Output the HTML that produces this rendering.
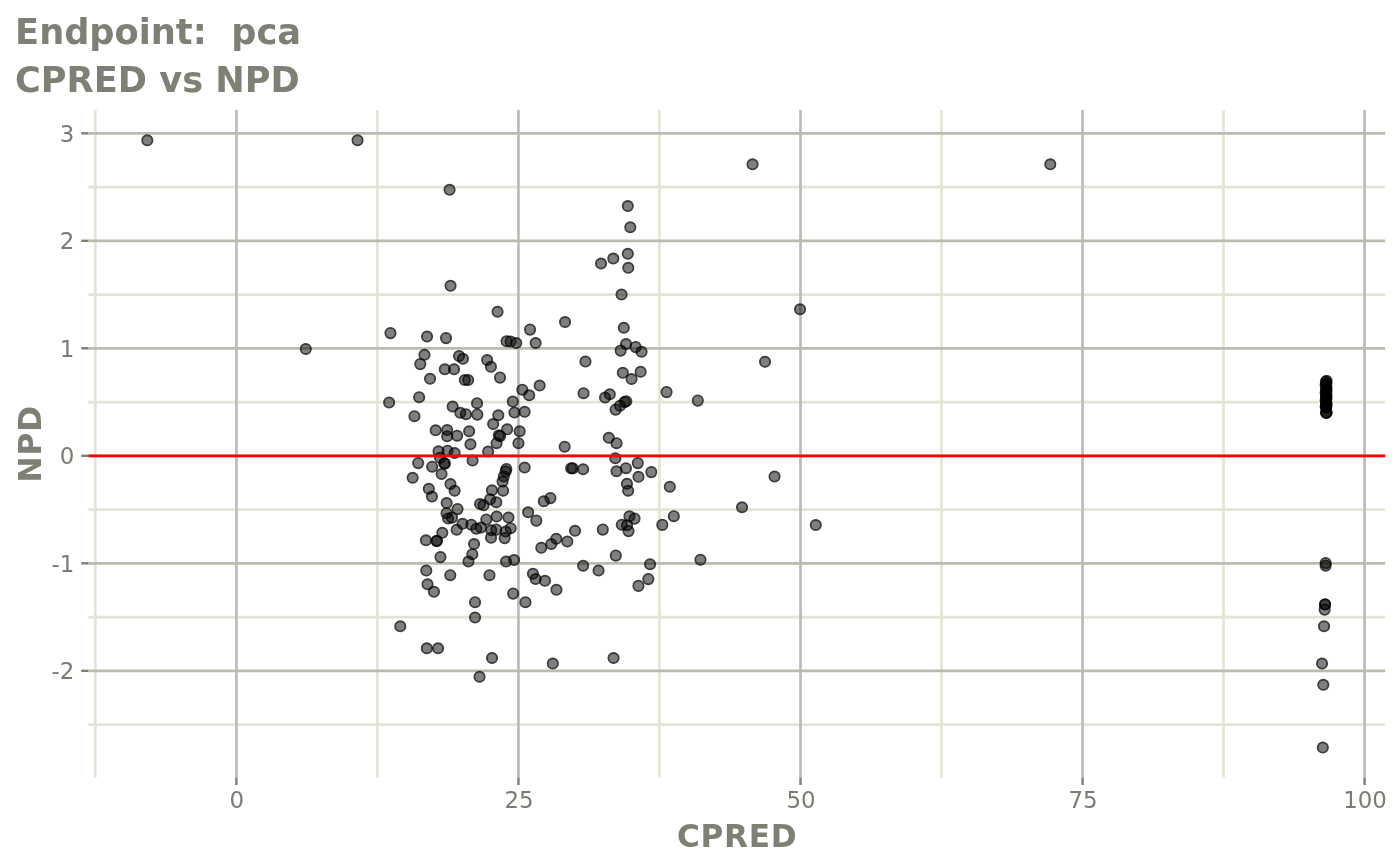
<!DOCTYPE html>
<html lang="en"><head><meta charset="utf-8"><title>CPRED vs NPD</title>
<style>html,body{margin:0;padding:0;background:#fff}svg{display:block}text{font-family:"DejaVu Sans","Liberation Sans",sans-serif}.t{font-weight:bold;fill:#7f7f76}.a{fill:#7b7b72;font-size:22.9px}</style></head><body>
<svg width="1400" height="865" viewBox="0 0 1400 865">
<rect width="1400" height="865" fill="#fff"/>
<g stroke="#e4e4d6" stroke-width="2.65" fill="none">
<line x1="95.35" y1="110" x2="95.35" y2="777.5"/>
<line x1="377.4" y1="110" x2="377.4" y2="777.5"/>
<line x1="659.45" y1="110" x2="659.45" y2="777.5"/>
<line x1="941.5" y1="110" x2="941.5" y2="777.5"/>
<line x1="1223.6" y1="110" x2="1223.6" y2="777.5"/>
<line x1="88.3" y1="187.05" x2="1385.2" y2="187.05"/>
<line x1="88.3" y1="294.55" x2="1385.2" y2="294.55"/>
<line x1="88.3" y1="402.05" x2="1385.2" y2="402.05"/>
<line x1="88.3" y1="509.55" x2="1385.2" y2="509.55"/>
<line x1="88.3" y1="617.05" x2="1385.2" y2="617.05"/>
<line x1="88.3" y1="724.55" x2="1385.2" y2="724.55"/>
</g><g stroke="#bbbbaf" stroke-width="2.65" fill="none">
<line x1="236.4" y1="110" x2="236.4" y2="777.5"/>
<line x1="518.45" y1="110" x2="518.45" y2="777.5"/>
<line x1="800.5" y1="110" x2="800.5" y2="777.5"/>
<line x1="1082.55" y1="110" x2="1082.55" y2="777.5"/>
<line x1="1364.6" y1="110" x2="1364.6" y2="777.5"/>
<line x1="88.3" y1="133.3" x2="1385.2" y2="133.3"/>
<line x1="88.3" y1="240.8" x2="1385.2" y2="240.8"/>
<line x1="88.3" y1="348.3" x2="1385.2" y2="348.3"/>
<line x1="88.3" y1="455.8" x2="1385.2" y2="455.8"/>
<line x1="88.3" y1="563.3" x2="1385.2" y2="563.3"/>
<line x1="88.3" y1="670.8" x2="1385.2" y2="670.8"/>
</g><defs><g id="p"><circle r="4.1" fill="#000" fill-opacity=".5"/><circle r="5.05" fill="none" stroke="#000" stroke-opacity=".76" stroke-width="2"/></g></defs><g>
<use href="#p" x="449.55" y="189.70"/>
<use href="#p" x="627.80" y="205.95"/>
<use href="#p" x="630.30" y="227.20"/>
<use href="#p" x="627.80" y="253.70"/>
<use href="#p" x="613.30" y="258.45"/>
<use href="#p" x="601.05" y="263.45"/>
<use href="#p" x="628.30" y="267.70"/>
<use href="#p" x="450.55" y="285.70"/>
<use href="#p" x="621.55" y="294.45"/>
<use href="#p" x="497.55" y="311.70"/>
<use href="#p" x="565.05" y="321.95"/>
<use href="#p" x="623.80" y="327.70"/>
<use href="#p" x="390.45" y="333.10"/>
<use href="#p" x="427.05" y="336.45"/>
<use href="#p" x="446.05" y="338.10"/>
<use href="#p" x="530.05" y="329.60"/>
<use href="#p" x="506.55" y="341.20"/>
<use href="#p" x="510.65" y="341.45"/>
<use href="#p" x="516.30" y="342.95"/>
<use href="#p" x="535.65" y="342.95"/>
<use href="#p" x="424.45" y="354.70"/>
<use href="#p" x="420.30" y="364.10"/>
<use href="#p" x="459.05" y="355.95"/>
<use href="#p" x="462.95" y="358.70"/>
<use href="#p" x="487.15" y="359.95"/>
<use href="#p" x="490.95" y="366.70"/>
<use href="#p" x="444.80" y="369.20"/>
<use href="#p" x="454.05" y="369.20"/>
<use href="#p" x="430.05" y="378.70"/>
<use href="#p" x="464.80" y="379.95"/>
<use href="#p" x="468.15" y="379.95"/>
<use href="#p" x="500.05" y="377.60"/>
<use href="#p" x="522.30" y="389.80"/>
<use href="#p" x="529.15" y="395.20"/>
<use href="#p" x="539.65" y="385.45"/>
<use href="#p" x="389.15" y="402.45"/>
<use href="#p" x="419.15" y="397.30"/>
<use href="#p" x="452.65" y="406.45"/>
<use href="#p" x="477.05" y="403.30"/>
<use href="#p" x="512.80" y="401.45"/>
<use href="#p" x="414.45" y="416.30"/>
<use href="#p" x="460.30" y="412.70"/>
<use href="#p" x="465.95" y="414.30"/>
<use href="#p" x="477.30" y="414.60"/>
<use href="#p" x="498.30" y="415.20"/>
<use href="#p" x="514.45" y="412.45"/>
<use href="#p" x="524.65" y="411.70"/>
<use href="#p" x="493.15" y="423.95"/>
<use href="#p" x="435.65" y="430.20"/>
<use href="#p" x="447.15" y="429.95"/>
<use href="#p" x="469.15" y="431.20"/>
<use href="#p" x="507.15" y="429.20"/>
<use href="#p" x="519.65" y="431.20"/>
<use href="#p" x="447.15" y="436.20"/>
<use href="#p" x="457.15" y="435.80"/>
<use href="#p" x="498.85" y="435.20"/>
<use href="#p" x="500.15" y="436.10"/>
<use href="#p" x="496.55" y="443.30"/>
<use href="#p" x="518.45" y="443.30"/>
<use href="#p" x="470.45" y="444.20"/>
<use href="#p" x="488.15" y="451.45"/>
<use href="#p" x="438.55" y="451.20"/>
<use href="#p" x="447.55" y="450.80"/>
<use href="#p" x="454.65" y="452.95"/>
<use href="#p" x="440.05" y="457.70"/>
<use href="#p" x="444.15" y="463.30"/>
<use href="#p" x="444.95" y="463.60"/>
<use href="#p" x="418.15" y="463.10"/>
<use href="#p" x="432.15" y="466.80"/>
<use href="#p" x="472.55" y="460.45"/>
<use href="#p" x="441.55" y="473.95"/>
<use href="#p" x="412.65" y="477.70"/>
<use href="#p" x="524.65" y="467.45"/>
<use href="#p" x="506.30" y="468.95"/>
<use href="#p" x="505.65" y="471.45"/>
<use href="#p" x="503.80" y="476.45"/>
<use href="#p" x="502.55" y="481.45"/>
<use href="#p" x="503.15" y="490.80"/>
<use href="#p" x="491.95" y="490.20"/>
<use href="#p" x="450.45" y="483.95"/>
<use href="#p" x="454.65" y="490.80"/>
<use href="#p" x="428.80" y="488.70"/>
<use href="#p" x="431.95" y="496.45"/>
<use href="#p" x="446.65" y="502.95"/>
<use href="#p" x="457.55" y="509.10"/>
<use href="#p" x="490.05" y="499.20"/>
<use href="#p" x="496.30" y="502.20"/>
<use href="#p" x="480.05" y="503.95"/>
<use href="#p" x="483.55" y="505.20"/>
<use href="#p" x="543.80" y="501.20"/>
<use href="#p" x="528.15" y="512.20"/>
<use href="#p" x="536.30" y="520.60"/>
<use href="#p" x="446.55" y="513.30"/>
<use href="#p" x="448.15" y="518.50"/>
<use href="#p" x="451.95" y="517.60"/>
<use href="#p" x="496.65" y="516.45"/>
<use href="#p" x="508.45" y="517.45"/>
<use href="#p" x="486.30" y="519.60"/>
<use href="#p" x="462.55" y="523.70"/>
<use href="#p" x="471.30" y="524.80"/>
<use href="#p" x="476.30" y="528.70"/>
<use href="#p" x="480.95" y="527.45"/>
<use href="#p" x="456.65" y="529.80"/>
<use href="#p" x="491.30" y="530.20"/>
<use href="#p" x="496.30" y="529.60"/>
<use href="#p" x="505.65" y="531.45"/>
<use href="#p" x="510.65" y="528.30"/>
<use href="#p" x="491.05" y="537.70"/>
<use href="#p" x="504.65" y="538.10"/>
<use href="#p" x="442.30" y="532.70"/>
<use href="#p" x="425.95" y="540.20"/>
<use href="#p" x="436.95" y="540.80"/>
<use href="#p" x="436.55" y="541.10"/>
<use href="#p" x="474.05" y="543.95"/>
<use href="#p" x="472.30" y="554.30"/>
<use href="#p" x="468.45" y="561.45"/>
<use href="#p" x="440.45" y="557.10"/>
<use href="#p" x="506.05" y="561.45"/>
<use href="#p" x="514.15" y="559.95"/>
<use href="#p" x="541.30" y="547.70"/>
<use href="#p" x="426.30" y="570.45"/>
<use href="#p" x="450.30" y="575.30"/>
<use href="#p" x="489.45" y="575.30"/>
<use href="#p" x="427.55" y="584.20"/>
<use href="#p" x="433.95" y="591.70"/>
<use href="#p" x="532.95" y="573.70"/>
<use href="#p" x="535.65" y="578.95"/>
<use href="#p" x="544.95" y="580.70"/>
<use href="#p" x="513.15" y="593.60"/>
<use href="#p" x="475.05" y="602.30"/>
<use href="#p" x="525.45" y="602.30"/>
<use href="#p" x="556.45" y="589.70"/>
<use href="#p" x="638.45" y="585.90"/>
<use href="#p" x="648.35" y="579.10"/>
<use href="#p" x="475.05" y="617.45"/>
<use href="#p" x="400.30" y="626.20"/>
<use href="#p" x="426.80" y="648.20"/>
<use href="#p" x="438.05" y="648.20"/>
<use href="#p" x="492.05" y="657.95"/>
<use href="#p" x="552.80" y="663.45"/>
<use href="#p" x="613.55" y="657.95"/>
<use href="#p" x="479.55" y="676.70"/>
<use href="#p" x="626.05" y="343.95"/>
<use href="#p" x="620.65" y="350.60"/>
<use href="#p" x="635.65" y="347.10"/>
<use href="#p" x="641.55" y="351.80"/>
<use href="#p" x="585.45" y="361.45"/>
<use href="#p" x="622.80" y="372.70"/>
<use href="#p" x="640.65" y="371.70"/>
<use href="#p" x="631.55" y="378.95"/>
<use href="#p" x="583.55" y="393.30"/>
<use href="#p" x="605.05" y="397.45"/>
<use href="#p" x="609.80" y="394.20"/>
<use href="#p" x="666.55" y="392.10"/>
<use href="#p" x="697.80" y="400.60"/>
<use href="#p" x="615.65" y="409.60"/>
<use href="#p" x="620.05" y="405.80"/>
<use href="#p" x="624.45" y="402.10"/>
<use href="#p" x="626.30" y="401.20"/>
<use href="#p" x="564.65" y="446.80"/>
<use href="#p" x="608.80" y="437.70"/>
<use href="#p" x="616.55" y="443.30"/>
<use href="#p" x="615.30" y="458.30"/>
<use href="#p" x="637.80" y="463.10"/>
<use href="#p" x="625.95" y="468.30"/>
<use href="#p" x="616.55" y="471.20"/>
<use href="#p" x="651.30" y="472.10"/>
<use href="#p" x="638.45" y="476.70"/>
<use href="#p" x="626.95" y="483.70"/>
<use href="#p" x="628.15" y="490.80"/>
<use href="#p" x="669.80" y="486.80"/>
<use href="#p" x="571.15" y="468.30"/>
<use href="#p" x="572.75" y="468.40"/>
<use href="#p" x="583.15" y="469.20"/>
<use href="#p" x="550.45" y="498.10"/>
<use href="#p" x="629.45" y="516.20"/>
<use href="#p" x="634.55" y="518.60"/>
<use href="#p" x="673.80" y="516.30"/>
<use href="#p" x="662.30" y="524.90"/>
<use href="#p" x="621.80" y="524.80"/>
<use href="#p" x="627.05" y="525.20"/>
<use href="#p" x="628.55" y="531.10"/>
<use href="#p" x="602.80" y="529.60"/>
<use href="#p" x="575.05" y="530.70"/>
<use href="#p" x="556.30" y="538.70"/>
<use href="#p" x="551.30" y="543.95"/>
<use href="#p" x="567.30" y="541.45"/>
<use href="#p" x="615.80" y="555.60"/>
<use href="#p" x="583.15" y="565.80"/>
<use href="#p" x="598.55" y="570.45"/>
<use href="#p" x="650.05" y="564.20"/>
<use href="#p" x="700.45" y="559.80"/>
<use href="#p" x="765.05" y="361.70"/>
<use href="#p" x="774.55" y="476.45"/>
<use href="#p" x="742.05" y="507.20"/>
<use href="#p" x="815.80" y="524.95"/>
<use href="#p" x="147.30" y="140.20"/>
<use href="#p" x="357.55" y="140.20"/>
<use href="#p" x="305.80" y="348.95"/>
<use href="#p" x="752.55" y="164.20"/>
<use href="#p" x="1050.30" y="164.20"/>
<use href="#p" x="800.05" y="309.20"/>
<use href="#p" x="1325.65" y="563.10"/>
<use href="#p" x="1325.65" y="565.60"/>
<use href="#p" x="1325.05" y="604.20"/>
<use href="#p" x="1325.05" y="604.50"/>
<use href="#p" x="1324.65" y="609.60"/>
<use href="#p" x="1324.05" y="626.20"/>
<use href="#p" x="1322.05" y="663.45"/>
<use href="#p" x="1323.30" y="684.70"/>
<use href="#p" x="1322.80" y="747.45"/>
<use href="#p" x="1326.55" y="380.80"/>
<use href="#p" x="1325.95" y="381.70"/>
<use href="#p" x="1326.45" y="383.60"/>
<use href="#p" x="1325.65" y="384.70"/>
<use href="#p" x="1326.15" y="386.20"/>
<use href="#p" x="1326.55" y="388.20"/>
<use href="#p" x="1325.95" y="390.10"/>
<use href="#p" x="1326.45" y="391.20"/>
<use href="#p" x="1325.65" y="392.70"/>
<use href="#p" x="1326.15" y="393.80"/>
<use href="#p" x="1326.55" y="395.70"/>
<use href="#p" x="1325.95" y="397.20"/>
<use href="#p" x="1326.45" y="398.70"/>
<use href="#p" x="1325.65" y="400.20"/>
<use href="#p" x="1326.15" y="402.20"/>
<use href="#p" x="1326.55" y="403.70"/>
<use href="#p" x="1325.95" y="404.70"/>
<use href="#p" x="1326.45" y="405.90"/>
<use href="#p" x="1325.65" y="406.80"/>
<use href="#p" x="1326.15" y="407.50"/>
<use href="#p" x="1326.55" y="412.40"/>
<use href="#p" x="1325.95" y="412.70"/>
<use href="#p" x="1326.45" y="412.90"/>
</g>
<line x1="88.3" y1="455.9" x2="1385.2" y2="455.9" stroke="#ff0000" stroke-width="2.7"/>
<g stroke="#7f7f76" stroke-width="2.4">
<line x1="81.2" y1="133.3" x2="88.3" y2="133.3"/>
<line x1="81.2" y1="240.8" x2="88.3" y2="240.8"/>
<line x1="81.2" y1="348.3" x2="88.3" y2="348.3"/>
<line x1="81.2" y1="455.8" x2="88.3" y2="455.8"/>
<line x1="81.2" y1="563.3" x2="88.3" y2="563.3"/>
<line x1="81.2" y1="670.8" x2="88.3" y2="670.8"/>
<line x1="236.4" y1="777.5" x2="236.4" y2="785"/>
<line x1="518.45" y1="777.5" x2="518.45" y2="785"/>
<line x1="800.5" y1="777.5" x2="800.5" y2="785"/>
<line x1="1082.55" y1="777.5" x2="1082.55" y2="785"/>
<line x1="1364.6" y1="777.5" x2="1364.6" y2="785"/>
</g>
<text class="a" x="74.3" y="141.7" text-anchor="end">3</text>
<text class="a" x="74.3" y="249.2" text-anchor="end">2</text>
<text class="a" x="74.3" y="356.7" text-anchor="end">1</text>
<text class="a" x="74.3" y="464.2" text-anchor="end">0</text>
<text class="a" x="74.3" y="571.7" text-anchor="end">-1</text>
<text class="a" x="74.3" y="679.2" text-anchor="end">-2</text>
<text class="a" x="236.9" y="807.7" text-anchor="middle">0</text>
<text class="a" x="519.0" y="807.7" text-anchor="middle">25</text>
<text class="a" x="801.0" y="807.7" text-anchor="middle">50</text>
<text class="a" x="1083.0" y="807.7" text-anchor="middle">75</text>
<text class="a" x="1365.1" y="807.7" text-anchor="middle">100</text>
<text class="t" x="15.1" y="44" font-size="35.2" xml:space="preserve" style="white-space:pre">Endpoint:  pca</text>
<text class="t" x="15" y="91.9" font-size="35.2">CPRED vs NPD</text>
<text class="t" x="737.2" y="846.9" font-size="31.2" letter-spacing="0.7" text-anchor="middle">CPRED</text>
<text class="t" font-size="31.2" letter-spacing="0.8" text-anchor="middle" transform="translate(41,443.8) rotate(-90)">NPD</text>
</svg></body></html>
